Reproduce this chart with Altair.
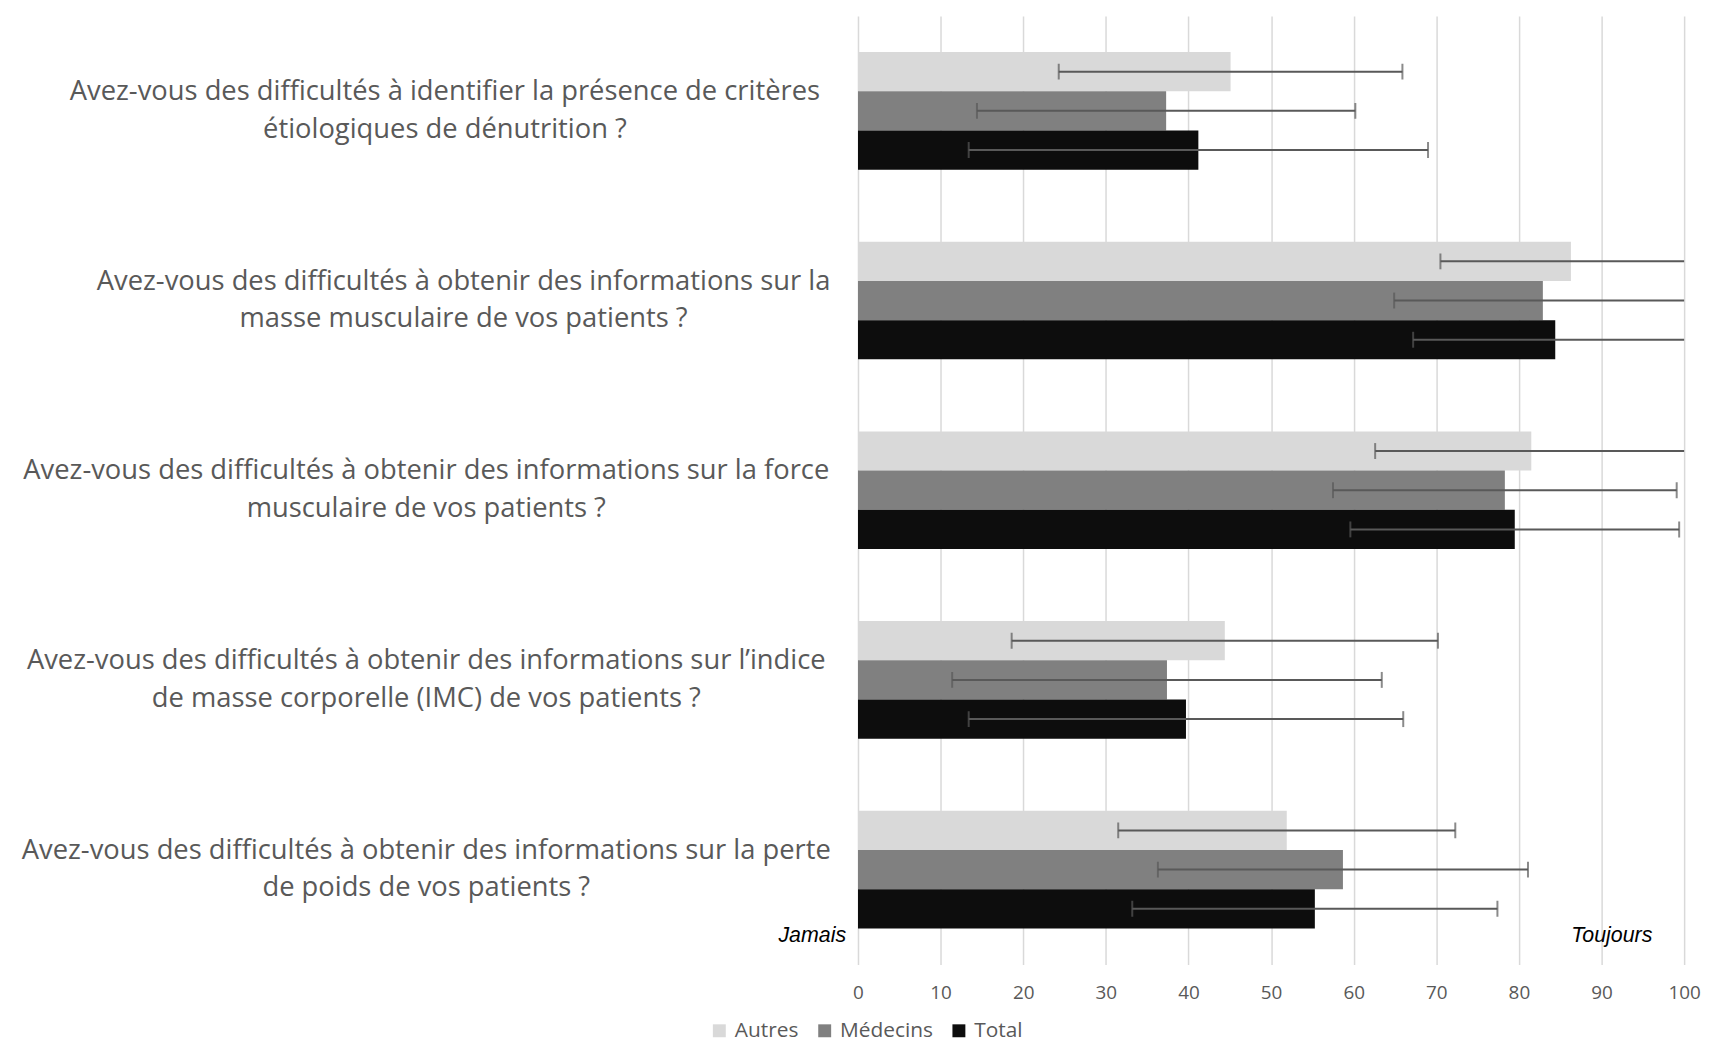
import altair as alt
import pandas as pd

questions = [
    "Avez-vous des difficultés à identifier la présence de critères\nétiologiques de dénutrition ?",
    "Avez-vous des difficultés à obtenir des informations sur la\nmasse musculaire de vos patients ?",
    "Avez-vous des difficultés à obtenir des informations sur la force\nmusculaire de vos patients ?",
    "Avez-vous des difficultés à obtenir des informations sur l’indice\nde masse corporelle (IMC) de vos patients ?",
    "Avez-vous des difficultés à obtenir des informations sur la perte\nde poids de vos patients ?",
]
groups = ["Autres", "Médecins", "Total"]
colors = ["#D9D9D9", "#808080", "#0D0D0D"]

autres = [45.1, 86.3, 81.5, 44.4, 51.9]
autres_sd = [20.8, 15.8, 18.9, 25.8, 20.4]
medecins = [37.3, 82.9, 78.3, 37.4, 58.7]
medecins_sd = [22.9, 18.0, 20.8, 26.0, 22.4]
total = [41.2, 84.4, 79.5, 39.7, 55.3]
total_sd = [27.8, 17.2, 19.9, 26.3, 22.1]

x_ticks = list(range(0, 101, 10))
scale_ends = ["Jamais", "Toujours"]

rows = []
for g, vals, sds in zip(groups, [autres, medecins, total], [autres_sd, medecins_sd, total_sd]):
    for q, v, s in zip(questions, vals, sds):
        rows.append({"q": q, "g": g, "v": v, "sd": s})
df = pd.DataFrame(rows)

GRAY = "#595959"
FONT = "Open Sans"
W, H = 831, 954
LABEL_SIZE = 27.5
CHAR_W = 12.5      # approx. average glyph width of the label font (px)
LABEL_GAP = 28     # px between label block and the axis
LINE_H = 38

yband = alt.Y("q:N", sort=questions, axis=None,
              scale=alt.Scale(paddingInner=0.38, paddingOuter=0.19))
yoff = alt.YOffset("g:N", sort=groups, scale=alt.Scale(paddingInner=0, paddingOuter=0))
xscale = alt.Scale(domain=[0, 100], nice=False, zero=True)

base = alt.Chart(df).encode(y=yband, yOffset=yoff)

bars = base.mark_bar().encode(
    x=alt.X("v:Q", scale=xscale, title=None,
            axis=alt.Axis(values=x_ticks, domain=False, ticks=False, grid=True,
                          gridColor="#D9D9D9", gridWidth=1.5, labelFlush=False,
                          labelFont=FONT, labelFontSize=19, labelColor=GRAY,
                          labelPadding=19)),
    color=alt.Color("g:N", sort=groups,
                    scale=alt.Scale(domain=groups, range=colors),
                    legend=alt.Legend(orient="none", legendX=-150, legendY=1010,
                                      direction="horizontal", title=None,
                                      symbolType="square", symbolSize=169,
                                      symbolStrokeWidth=0, labelFont=FONT,
                                      labelFontSize=21, labelColor=GRAY,
                                      columnPadding=15, labelOffset=5)),
)

err_base = base.transform_calculate(lo="datum.v - datum.sd", hi="datum.v + datum.sd")
err = err_base.mark_rule(clip=True, color=GRAY, strokeWidth=2).encode(
    x=alt.X("lo:Q", scale=xscale, title=None), x2="hi:Q")
cap_lo = err_base.mark_tick(clip=True, color=GRAY, thickness=2, size=16).encode(
    x=alt.X("lo:Q", scale=xscale, title=None))
cap_hi = err_base.mark_tick(clip=True, color=GRAY, thickness=2, size=16).encode(
    x=alt.X("hi:Q", scale=xscale, title=None))

ends_df = pd.DataFrame({"t": scale_ends, "x": [0, 100]})
ends_style = dict(align="right", baseline="middle", font="Liberation Sans",
                  fontStyle="italic", fontSize=21.5, color="black")
jamais = alt.Chart(ends_df).transform_filter("datum.t == 'Jamais'").mark_text(
    dx=-12, **ends_style).encode(x=alt.X("x:Q", scale=xscale, title=None),
                                 y=alt.value(925), text="t:N")
toujours = alt.Chart(ends_df).transform_filter("datum.t == 'Toujours'").mark_text(
    dx=-32, **ends_style).encode(x=alt.X("x:Q", scale=xscale, title=None),
                                 y=alt.value(925), text="t:N")

# category labels: two centred lines, block right edge a fixed gap left of the axis
labels = alt.Chart(pd.DataFrame({"q": questions})).transform_calculate(
    n="max(length(split(datum.q, '\\n')[0]), length(split(datum.q, '\\n')[1]))"
).transform_calculate(
    c=f"-({LABEL_GAP} + datum.n * {CHAR_W} / 2) * 100 / {W}"
).mark_text(align="center", baseline="middle", lineBreak="\n", font=FONT,
            fontSize=LABEL_SIZE, lineHeight=LINE_H, dy=-LINE_H / 2, color=GRAY).encode(
    y=alt.Y("q:N", sort=questions, axis=None,
            scale=alt.Scale(paddingInner=0.38, paddingOuter=0.19)),
    x=alt.X("c:Q", scale=xscale, title=None),
    text="q:N",
)

chart = alt.layer(bars, err, cap_lo, cap_hi, jamais, toujours, labels).properties(
    width=W, height=H,
    padding={"left": 13, "top": 5, "right": 5, "bottom": 5},
).configure_view(stroke=None)

chart.save("out.html", embed_options={"renderer": "svg", "actions": False})
